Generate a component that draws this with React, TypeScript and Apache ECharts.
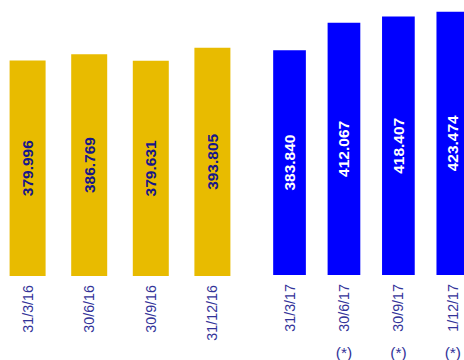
import React, { useEffect, useRef } from "react";
import * as echarts from "echarts";

const cats2016 = ["31/3/16", "30/6/16", "30/9/16", "31/12/16"];
const vals2016 = [379.996, 386.769, 379.631, 393.805];
const cats2017 = ["31/3/17", "30/6/17", "30/9/17", "1/12/17"];
const vals2017 = [383.84, 412.067, 418.407, 423.474];
const notes2017 = ["", "(*)", "(*)", "(*)"];

const FONT = "Liberation Sans, Arial, sans-serif";

export default function App() {
  const ref = useRef<HTMLDivElement>(null);
  useEffect(() => {
    if (!ref.current) return;
    const chart = echarts.init(ref.current, undefined, { renderer: "svg" });
    const idx = (arr: any[]) => arr.map((_, i) => i);
    const xAxisFor = (
      gridIndex: number,
      names: string[],
      min: number,
      max: number,
      rotate: number,
      offset: number,
      margin: number,
      fontSize: number
    ) => ({
      type: "value",
      gridIndex,
      min,
      max,
      position: "bottom",
      offset,
      splitLine: { show: false },
      axisLine: { show: false },
      axisTick: { show: false },
      axisLabel: {
        customValues: idx(names),
        formatter: (v: number) => names[Math.round(v)] ?? "",
        rotate,
        margin,
        fontSize,
        color: "#333399",
        fontFamily: FONT,
        showMinLabel: true,
        showMaxLabel: true,
      },
    });
    const valAxis = (gridIndex: number, min: number, max: number) => ({
      type: "value",
      gridIndex,
      min,
      max,
      show: false,
      splitLine: { show: false },
    });
    const label = (color: string) => ({
      show: true,
      position: "inside",
      rotate: 90,
      fontSize: 15.5,
      fontWeight: "bold",
      color,
      fontFamily: FONT,
      formatter: (p: any) => Number(p.value[1]).toFixed(3),
    });
    const g0min = -27.6 / 61.6;
    const g0max = g0min + 240 / 61.6;
    const g1min = -(290.3 - 250) / 55.5;
    const g1max = g1min + 214 / 55.5;
    chart.setOption({
      animation: false,
      grid: [
        { left: 0, width: 240, top: 0, height: 276 },
        { left: 250, width: 214, top: 0, height: 276 },
      ],
      xAxis: [
        xAxisFor(0, cats2016, g0min, g0max, 90, 0, 9, 14.3),
        xAxisFor(1, cats2017, g1min, g1max, 90, 0, 9, 14.3),
        xAxisFor(1, notes2017, g1min, g1max, 0, 61, 8, 15.5),
      ],
      yAxis: [valAxis(0, 146, 445.6), valAxis(1, 152.4, 435.5)],
      series: [
        {
          type: "bar",
          xAxisIndex: 0,
          yAxisIndex: 0,
          data: vals2016.map((v, i) => [i, v]),
          barWidth: 36,
          itemStyle: { color: "#E8BB00" },
          label: label("#16168a"),
        },
        {
          type: "bar",
          xAxisIndex: 1,
          yAxisIndex: 1,
          data: vals2017.map((v, i) => [i, v]),
          barWidth: 32.7,
          itemStyle: { color: "#0000FF" },
          label: label("#FFFFFF"),
        },
      ],
    });
    return () => chart.dispose();
  }, []);
  return (
    <div
      ref={ref}
      style={{ position: "absolute", left: 0, top: 0, width: 464, height: 360, background: "#fff" }}
    />
  );
}
